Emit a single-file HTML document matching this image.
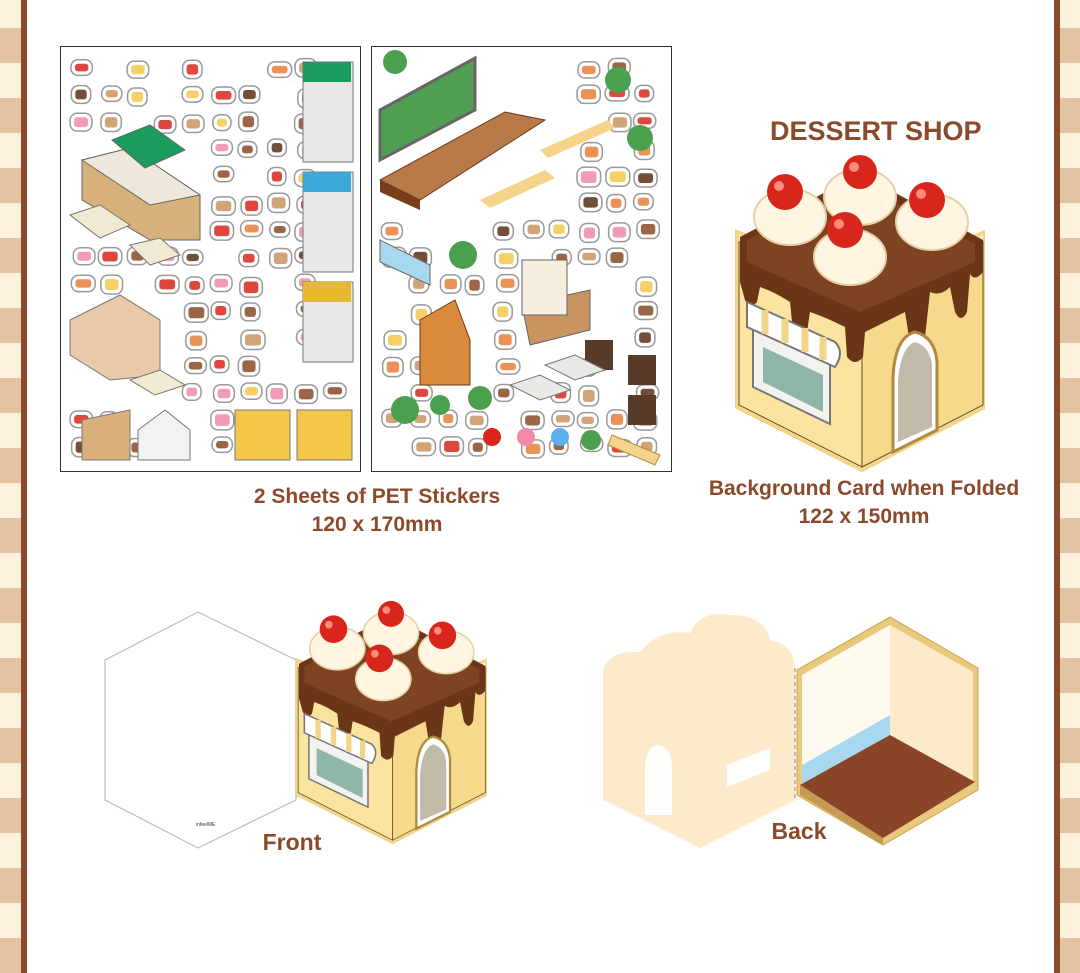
<!DOCTYPE html>
<html><head><meta charset="utf-8"><style>
body{margin:0;width:1080px;height:973px;overflow:hidden;background:#fff;position:relative;font-family:"Liberation Sans",sans-serif}
.strip{position:absolute;top:0;height:973px;width:21px;background:repeating-linear-gradient(#fdf0dc 0 28px,#e2c4a2 28px 63px,#fdf0dc 63px 70px)}
.t{position:absolute;color:#8b4a2b;font-weight:bold;text-align:center;white-space:nowrap}
</style></head><body>
<div class="strip" style="left:0"></div>
<div style="position:absolute;left:21px;top:0;width:6px;height:973px;background:#8b4a2b"></div>
<div class="strip" style="left:1060px"></div>
<div style="position:absolute;left:1054px;top:0;width:6px;height:973px;background:#8b4a2b"></div>

<svg width="1080" height="973" style="position:absolute;left:0;top:0">
<defs>
<symbol id="cake" viewBox="0 -12 250 322" width="250" height="322">
 <polygon points="2,70 127,120 250,70 250,245 127,308 2,245" fill="#fff1c0" stroke="#f0d58a" stroke-width="4"/>
 <polygon points="4,80 127,135 127,305 4,243" fill="#fbe3a0" stroke="#6a4a20" stroke-width="1"/>
 <polygon points="127,135 248,80 248,243 127,305" fill="#f6d98a" stroke="#6a4a20" stroke-width="1"/>
 <path d="M5,75 L125,12 L248,78 L248,110 Q240,120 235,112 L232,150 Q226,162 220,150 L215,125 Q205,135 195,130 L190,175 Q182,188 174,175 L170,150 Q150,160 130,170 L128,195 Q120,205 112,195 L110,165 Q90,155 75,150 L72,170 Q65,180 58,170 L55,140 Q40,130 25,125 L22,140 Q15,148 10,138 L5,120 Z" fill="#6b3518"/>
 <path d="M12,78 L125,22 L240,82 L240,100 L125,150 L12,100Z" fill="#7e4422"/>
 <g fill="#fff5e0" stroke="#e5cfa6" stroke-width="2">
  <ellipse cx="55" cy="55" rx="36" ry="28"/><ellipse cx="125" cy="35" rx="36" ry="28"/>
  <ellipse cx="197" cy="60" rx="36" ry="28"/><ellipse cx="115" cy="95" rx="36" ry="28"/></g>
 <g fill="#d9261c"><circle cx="50" cy="30" r="18"/><circle cx="125" cy="10" r="17"/><circle cx="192" cy="38" r="18"/><circle cx="110" cy="68" r="18"/></g>
 <g fill="#ff8b7a"><circle cx="44" cy="24" r="5"/><circle cx="119" cy="5" r="5"/><circle cx="186" cy="32" r="5"/><circle cx="104" cy="62" r="5"/></g>
 <polygon points="18,165 95,200 95,262 18,225" fill="#f2f2ee" stroke="#777" stroke-width="2"/>
 <polygon points="28,185 88,213 88,250 28,220" fill="#8fb6a8"/>
 <path d="M12,140 L100,180 Q110,190 100,205 L12,165Z" fill="#fff" stroke="#777" stroke-width="2"/>
 <path d="M30,148 L30,172 M50,157 L50,181 M70,166 L70,190 M88,175 L88,198" stroke="#f0d58a" stroke-width="7"/>
 <path d="M158,290 L158,215 Q160,175 180,170 Q200,175 202,200 L202,268 Z" fill="#fff" stroke="#b08a40" stroke-width="3"/>
 <path d="M163,280 L163,218 Q166,185 180,180 Q196,185 197,205 L197,265 Z" fill="#9a8c70" opacity=".6"/>
</symbol>
</defs>

<rect x="60.5" y="46.5" width="300" height="425" fill="#fff" stroke="#333"/>
<rect x="371.5" y="46.5" width="300" height="425" fill="#fff" stroke="#333"/>
<g id="blobs"></g>
<polygon points="82,160 130,148 200,195 200,240 150,240 82,200" fill="#d8b07a" stroke="#666"/>
<polygon points="82,160 130,148 200,195 150,205" fill="#eee8dc" stroke="#666"/>
<polygon points="112,140 150,125 185,150 145,168" fill="#1a9c5c" stroke="#666"/>
<g fill="#e8e8e8" stroke="#777"><rect x="303" y="62" width="50" height="100"/><rect x="303" y="172" width="50" height="100"/><rect x="303" y="282" width="50" height="80"/></g>
<rect x="303" y="62" width="48" height="20" fill="#1a9c5c"/><rect x="303" y="172" width="48" height="20" fill="#3aa8d8"/><rect x="303" y="282" width="48" height="20" fill="#e8b830"/>
<polygon points="70,320 120,295 160,320 160,375 110,380 70,355" fill="#e9c9a8" stroke="#777"/>
<polygon points="70,215 100,205 130,225 100,238" fill="#f1ead3" stroke="#777"/>
<polygon points="130,245 160,238 180,255 150,265" fill="#f1ead3" stroke="#777"/>
<polygon points="130,380 160,370 185,385 155,395" fill="#f1ead3" stroke="#777"/>
<polygon points="82,420 130,410 130,460 82,460" fill="#d9b07c" stroke="#777"/>
<polygon points="138,430 165,410 190,430 190,460 138,460" fill="#f2f2f2" stroke="#777"/>
<polygon points="235,410 290,410 290,460 235,460" fill="#f3c84a" stroke="#777"/>
<polygon points="297,410 352,410 352,460 297,460" fill="#f3c84a" stroke="#777"/>
<polygon points="380,110 475,58 475,110 380,160" fill="#4f9e52" stroke="#666" stroke-width="3"/>
<polygon points="380,180 505,112 545,120 420,200" fill="#b77a48" stroke="#6b3a1e"/>
<polygon points="380,180 420,200 420,210 380,192" fill="#7a3d1c"/>
<polygon points="420,320 455,300 470,340 470,385 420,385" fill="#d98a3a" stroke="#6b3a1e"/>
<polygon points="522,305 590,290 590,330 530,345" fill="#c89460" stroke="#666"/>
<rect x="522" y="260" width="45" height="55" fill="#f6efe0" stroke="#666"/>
<polygon points="380,240 430,265 430,285 380,262" fill="#a8d8f0" stroke="#666"/>
<polygon points="480,200 545,170 555,178 490,208" fill="#f6d38a"/>
<polygon points="540,150 608,120 615,128 548,158" fill="#f6d38a"/>
<g fill="#4aa04e"><circle cx="618" cy="80" r="13"/><circle cx="640" cy="138" r="13"/><circle cx="463" cy="255" r="14"/><circle cx="405" cy="410" r="14"/><circle cx="440" cy="405" r="10"/><circle cx="480" cy="398" r="12"/><circle cx="591" cy="440" r="10"/><circle cx="395" cy="62" r="12"/></g>
<g fill="#5a3a28"><rect x="585" y="340" width="28" height="30"/><rect x="628" y="355" width="28" height="30"/><rect x="628" y="395" width="28" height="30"/></g>
<g fill="#e8e8e4" stroke="#777"><polygon points="510,385 540,375 570,390 540,400"/><polygon points="545,365 575,355 605,370 575,380"/></g>
<circle cx="492" cy="437" r="9" fill="#d9261c"/><circle cx="526" cy="437" r="9" fill="#f08aa8"/><circle cx="560" cy="437" r="9" fill="#5ab0e8"/>
<polygon points="612,435 660,455 655,465 608,445" fill="#f6d38a" stroke="#b08a40"/>

<use href="#cake" x="735" y="150"/>
<polygon points="198,612 296,660 296,800 198,848 105,800 105,660" fill="#fff" stroke="#bbb" stroke-width="1.2"/>
<text x="196" y="826" font-size="5" fill="#333" font-family="Liberation Sans">infeelME</text>
<line x1="296" y1="660" x2="296" y2="800" stroke="#888" stroke-dasharray="4,3"/>
<use href="#cake" x="295" y="597" width="192" height="247"/>
<path d="M603,690 L603,670 Q610,650 640,652 Q660,628 690,633 Q700,610 730,615 Q765,615 770,640 Q795,645 795,670 L795,800 L700,848 L603,800 Z" fill="#fdeacb"/>
<path d="M645,815 L645,765 Q648,745 658,745 Q672,748 672,768 L672,815Z" fill="#fff"/>
<polygon points="727,765 770,748 770,770 727,787" fill="#fff"/>
<line x1="795" y1="668" x2="795" y2="800" stroke="#888" stroke-dasharray="4,3"/>
<polygon points="890,617 978,668 978,790 883,845 797,795 797,670" fill="#e9c97e" stroke="#c9a24a"/>
<polygon points="802,675 890,625 890,735 802,785" fill="#fffaf0"/>
<polygon points="890,625 973,672 973,782 890,735" fill="#fdeacb"/>
<polygon points="802,765 890,715 890,735 802,785" fill="#a8d8f0"/>
<polygon points="800,785 890,735 975,782 883,838" fill="#8a4428"/>
<polygon points="800,785 883,838 883,845 800,795" fill="#c59a55"/>
</svg>

<div class="t" style="left:770px;top:116px;width:210px;font-size:27px">DESSERT SHOP</div>
<div class="t" style="left:177px;top:483px;width:400px;font-size:21px;line-height:28px">2 Sheets of PET Stickers<br>120 x 170mm</div>
<div class="t" style="left:664px;top:475px;width:400px;font-size:21px;line-height:28px">Background Card when Folded<br>122 x 150mm</div>
<div class="t" style="left:242px;top:829px;width:100px;font-size:23px">Front</div>
<div class="t" style="left:749px;top:818px;width:100px;font-size:23px">Back</div>

<script>
var g=document.getElementById('blobs'),cols=['#8a4a28','#e8803a','#f08aa8','#d9261c','#f3c84a','#5a3018','#c89460'];
var s=7;function r(){s=(s*9301+49297)%233280;return s/233280;}
function ok(x,y,sh){if(sh==1){if(x<205&&y>135&&y<245)return false;if(x>295&&y<365)return false;if(y>400)return x<230?(x>140&&x<195)?false:true:false;if(x<165&&y>290&&y<390)return false;return true}
 if(x<550&&y<215)return false;if(x>410&&x<475&&y>290&&y<390)return false;if(x>515&&x<615&&y>255&&y<345)return false;return true}
function mk(t,a){var e=document.createElementNS('http://www.w3.org/2000/svg',t);for(var k in a)e.setAttribute(k,a[k]);g.appendChild(e);}
[[70,350,1],[381,661,2]].forEach(function(a){for(var y=58;y<460;y+=27)for(var x=a[0];x<a[1]-12;x+=28){if(!ok(x,y,a[2])||r()<.2)continue;
 var w=18+r()*6,h=15+r()*5,xx=x+r()*4,yy=y+r()*4;
 mk('rect',{x:xx,y:yy,width:w,height:h,rx:7,fill:'#fff',stroke:'#999','stroke-width':1.5});
 mk('rect',{x:xx+4,y:yy+4,width:w-8,height:h-8,rx:3,fill:cols[Math.floor(r()*cols.length)],opacity:.85});}});
</script>
</body></html>
